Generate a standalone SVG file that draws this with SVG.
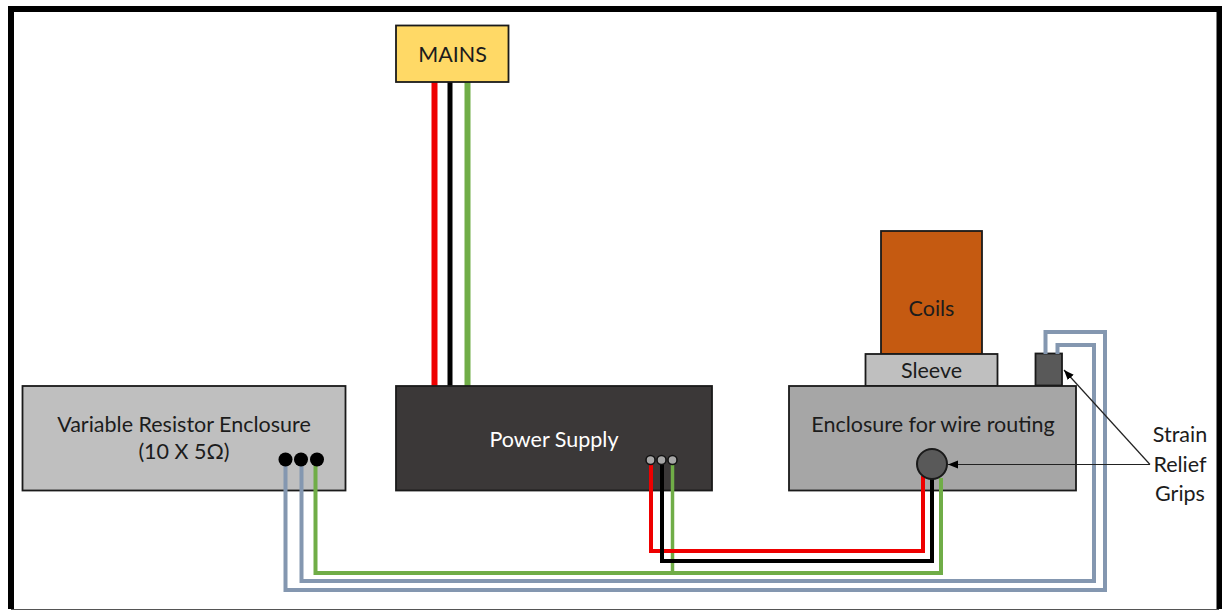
<svg xmlns="http://www.w3.org/2000/svg" width="1222" height="610" viewBox="0 0 1222 610">
<style>
.box{stroke:#1a1a1a;stroke-width:1.8}
.wire{fill:none;stroke-linejoin:miter}
.red{stroke:#ee0000}.blk{stroke:#000}.grn{stroke:#70ad47}.blu{stroke:#8497b0}
.t{font-family:Lato,"Open Sans",sans-serif;font-size:21.5px;text-anchor:middle;fill:#1c1c1c}
.ptr{stroke:#222;stroke-width:1.2;fill:none}
</style>
<defs>
<marker id="ah" markerWidth="12" markerHeight="10" refX="10" refY="4" orient="auto" markerUnits="userSpaceOnUse"><path d="M0 0L10 4L0 8z" fill="#000"/></marker>
</defs>
<rect width="1222" height="610" fill="#fff"/>
<path id="frame" d="M11 609V9H1219.5V609" fill="none" stroke="#000" stroke-width="6"/>
<line x1="11" y1="609.5" x2="1219" y2="609.5" stroke="#555" stroke-width="1"/>
<g id="connectors-back">
<path class="wire blk" stroke-width="5" d="M450 82V386"/>
<path class="wire red" stroke-width="6" d="M434.500 82V386"/>
<path class="wire grn" stroke-width="6" d="M467.500 82V386"/>
</g>
<g id="mains"><rect class="box" x="396" y="25.500" width="112.500" height="56.500" fill="#ffd966"/><text class="t" x="452.500" y="61.500">MAINS</text></g>
<g id="coils"><rect class="box" x="881" y="231" width="101" height="123" fill="#c55a11"/><text class="t" x="931.500" y="316">Coils</text></g>
<g id="sleeve"><rect class="box" x="865.500" y="354" width="132" height="32" fill="#bfbfbf"/><text class="t" x="931.500" y="378">Sleeve</text></g>
<g id="grip-top"><rect class="box" x="1035.500" y="353.500" width="26.500" height="32" fill="#595959"/></g>
<g id="resistor"><rect class="box" x="22.500" y="386" width="323" height="104.500" fill="#bfbfbf"/><text class="t" x="184" y="431.500">Variable Resistor Enclosure</text><text class="t" x="184" y="459">(10 X 5Ω)</text></g>
<g id="psu"><rect class="box" x="396" y="386" width="316" height="104.500" fill="#3b3838"/><text class="t" x="554" y="446.500" style="fill:#fff">Power Supply</text></g>
<g id="enclosure"><rect class="box" x="789" y="386" width="287" height="104.500" fill="#a6a6a6"/><text class="t" x="933" y="431.500">Enclosure for wire routing</text></g>
<g id="connectors">
<path class="wire blu" stroke-width="4" d="M285.500 465V590H1105V332H1045.500V354"/>
<path class="wire blu" stroke-width="4" d="M301.500 465V581H1094V345H1057.500V354"/>
<path class="wire grn" stroke-width="4" d="M315.500 465V573H941V478"/>
<path class="wire grn" stroke-width="3.500" d="M672.500 464V573"/>
<path class="wire red" stroke-width="4" d="M651 464V551H923V476"/>
<path class="wire blk" stroke-width="4" d="M662 464V561H932V478"/>
<path class="ptr" d="M1150 464.500H948" marker-end="url(#ah)"/>
<path class="ptr" d="M1150 464.500L1064 370" marker-end="url(#ah)"/>
</g>
<g id="grip-front"><circle cx="932" cy="464" r="15" fill="#595959" stroke="#1a1a1a" stroke-width="2"/></g>
<g id="psu-terminals" fill="#a6a6a6" stroke="#111" stroke-width="1.500"><circle cx="650.500" cy="460" r="4.500"/><circle cx="661.500" cy="460" r="4.500"/><circle cx="672.500" cy="460" r="4.500"/></g>
<g id="resistor-terminals" fill="#000"><circle cx="285.500" cy="459.500" r="7"/><circle cx="301" cy="459.500" r="7"/><circle cx="317" cy="459.500" r="7"/></g>
<g id="grips-label"><text class="t" x="1180" y="442">Strain</text><text class="t" x="1180" y="472">Relief</text><text class="t" x="1180" y="501">Grips</text></g>
</svg>
